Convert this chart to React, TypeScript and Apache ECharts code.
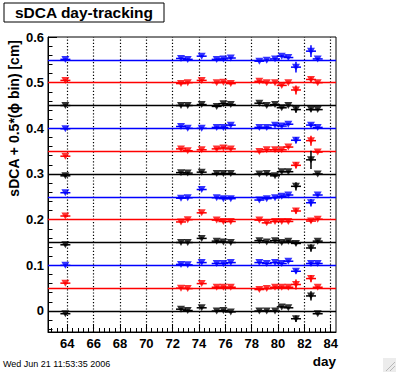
import React, { useEffect, useRef } from "react";
import * as echarts from "echarts";

const FONT = "'Liberation Sans', Arial, Helvetica, sans-serif";

// measurement days
const days = [63.85, 72.63, 73.14, 74.2, 75.34, 75.85, 76.41, 78.58, 79.14, 79.77, 80.28, 80.78, 81.36, 82.5, 83.01];
const dayHalfWidth = 0.38;

// sDCA + 0.5*(phi bin) per phi bin
const bin0 = [-0.006, 0.004, 0.001, 0.007, 0, 0.001, -0.002, 0, 0, 0, 0.009, 0.007, -0.017, 0.033, -0.006];
const bin1 = [0.061, 0.05, 0.049, 0.06, 0.052, 0.052, 0.052, 0.047, 0.049, 0.052, 0.052, 0.052, 0.058, 0.071, 0.052];
const bin2 = [0.1, 0.102, 0.101, 0.106, 0.104, 0.104, 0.106, 0.106, 0.104, 0.106, 0.104, 0.109, 0.087, 0.104, 0.104];
const bin3 = [0.145, 0.15, 0.15, 0.159, 0.153, 0.151, 0.15, 0.154, 0.151, 0.154, 0.15, 0.153, 0.148, 0.138, 0.153];
const bin4 = [0.208, 0.195, 0.2, 0.215, 0.199, 0.196, 0.196, 0.199, 0.193, 0.196, 0.196, 0.196, 0.219, 0.197, 0.201];
const bin5 = [0.259, 0.247, 0.248, 0.266, 0.248, 0.246, 0.246, 0.243, 0.246, 0.248, 0.251, 0.254, null, 0.237, 0.254];
const bin6 = [0.296, 0.303, 0.302, 0.304, 0.301, 0.301, 0.301, 0.3, 0.301, 0.296, 0.305, 0.305, 0.273, 0.331, 0.3];
const bin7 = [0.339, 0.355, 0.351, 0.353, 0.355, 0.357, 0.355, 0.349, 0.353, 0.353, 0.353, 0.359, 0.319, 0.373, 0.348];
const bin8 = [0.399, 0.404, 0.4, 0.4, 0.402, 0.402, 0.407, 0.402, 0.402, 0.407, 0.405, 0.409, 0.374, 0.407, 0.402];
const bin9 = [0.45, 0.45, 0.45, 0.452, 0.448, 0.454, 0.452, 0.455, 0.45, 0.452, 0.445, 0.45, 0.441, 0.441, 0.441];
const bin10 = [0.505, 0.498, 0.5, 0.505, 0.5, 0.501, 0.498, 0.503, 0.5, 0.5, 0.494, 0.5, 0.484, 0.507, 0.5];
const bin11 = [0.551, 0.553, 0.551, 0.558, 0.551, 0.552, 0.554, 0.547, 0.549, 0.552, 0.558, 0.555, 0.534, 0.569, 0.552];

// errors
const err0 = [0.002, 0.002, 0.002, 0.002, 0.002, 0.002, 0.002, 0.002, 0.002, 0.002, 0.002, 0.002, 0.007, 0.01, 0.002];
const err1 = [0.002, 0.002, 0.002, 0.002, 0.002, 0.002, 0.002, 0.002, 0.002, 0.002, 0.002, 0.002, 0.011, 0.008, 0.002];
const err2 = [0.002, 0.002, 0.002, 0.002, 0.002, 0.002, 0.002, 0.002, 0.002, 0.002, 0.002, 0.002, 0.005, 0.004, 0.002];
const err3 = [0.002, 0.002, 0.002, 0.002, 0.002, 0.002, 0.002, 0.002, 0.002, 0.002, 0.002, 0.002, 0.004, 0.008, 0.002];
const err4 = [0.002, 0.002, 0.002, 0.002, 0.002, 0.002, 0.002, 0.002, 0.002, 0.002, 0.002, 0.002, 0.006, 0.004, 0.002];
const err5 = [0.002, 0.002, 0.002, 0.002, 0.002, 0.002, 0.002, 0.002, 0.002, 0.002, 0.002, 0.002, 0, 0.008, 0.002];
const err6 = [0.002, 0.002, 0.002, 0.002, 0.002, 0.002, 0.002, 0.002, 0.002, 0.002, 0.002, 0.002, 0.009, 0.02, 0.002];
const err7 = [0.002, 0.002, 0.002, 0.002, 0.002, 0.002, 0.002, 0.002, 0.002, 0.002, 0.002, 0.002, 0.007, 0.011, 0.002];
const err8 = [0.002, 0.002, 0.002, 0.002, 0.002, 0.002, 0.002, 0.002, 0.002, 0.002, 0.002, 0.002, 0.007, 0.004, 0.002];
const err9 = [0.002, 0.002, 0.002, 0.002, 0.002, 0.002, 0.002, 0.002, 0.002, 0.002, 0.002, 0.002, 0.007, 0.004, 0.002];
const err10 = [0.002, 0.002, 0.002, 0.002, 0.002, 0.002, 0.002, 0.002, 0.002, 0.002, 0.002, 0.002, 0.01, 0.005, 0.002];
const err11 = [0.002, 0.002, 0.002, 0.002, 0.002, 0.002, 0.002, 0.002, 0.002, 0.002, 0.002, 0.002, 0.012, 0.013, 0.002];

const binValues = [bin0, bin1, bin2, bin3, bin4, bin5, bin6, bin7, bin8, bin9, bin10, bin11];
const binErrors = [err0, err1, err2, err3, err4, err5, err6, err7, err8, err9, err10, err11];
const refLevels = [0, 0.05, 0.1, 0.15, 0.2, 0.25, 0.3, 0.35, 0.4, 0.45, 0.5, 0.55];
const palette = ["#000000", "#ff0000", "#0000ff"];

const xMajorTicks = [64, 66, 68, 70, 72, 74, 76, 78, 80, 82, 84];
const yMajorTicks = [0, 0.1, 0.2, 0.3, 0.4, 0.5, 0.6];
const X_MIN = 62.53, X_MAX = 84.4;
const Y_MIN = -0.046, Y_MAX = 0.6;

const xMinorTicks: number[] = [];
for (let i = 0; i <= 60; i++) {
  const v = Math.round((62.8 + i * 0.4) * 100) / 100;
  if (v <= 84.0001) xMinorTicks.push(v);
}
const yMinorTicks: number[] = [];
for (let i = 0; i <= 32; i++) yMinorTicks.push(Math.round((-0.04 + i * 0.02) * 1000) / 1000);

export default function App() {
  const ref = useRef<HTMLDivElement>(null);
  useEffect(() => {
    if (!ref.current) return;
    const chart = echarts.init(ref.current, undefined, { renderer: "svg" });

    const series: any[] = [];
    binValues.forEach((vals, b) => {
      const color = palette[b % 3];
      const errs = binErrors[b];
      const pts: any[] = [];
      const bars: any[] = [];
      vals.forEach((v, i) => {
        if (v === null || v === undefined) return;
        pts.push([days[i], v]);
        bars.push([days[i], v, errs[i], dayHalfWidth]);
      });
      const mlData: any[] = [{ yAxis: refLevels[b], lineStyle: { color, width: 1.4, type: "solid" } }];
      if (b === 0) {
        xMajorTicks.forEach((t) => {
          mlData.push({ xAxis: t, lineStyle: { color: "#000", width: 1.2, type: [1.2, 2] } });
        });
      }
      series.push({
        type: "custom",
        xAxisIndex: 0,
        yAxisIndex: 0,
        data: bars,
        encode: { x: 0, y: 1 },
        silent: true,
        z: 3,
        renderItem: (params: any, api: any) => {
          const x = api.value(0), y = api.value(1), ey = api.value(2), ex = api.value(3);
          const c = api.coord([x, y]);
          const t = api.coord([x, y + ey]);
          const bt = api.coord([x, y - ey]);
          const l = api.coord([x - ex, y]);
          const r = api.coord([x + ex, y]);
          const style = { stroke: color, lineWidth: 1.5 };
          return {
            type: "group",
            children: [
              { type: "line", shape: { x1: c[0], y1: t[1], x2: c[0], y2: bt[1] }, style },
              { type: "line", shape: { x1: l[0], y1: c[1], x2: r[0], y2: c[1] }, style },
            ],
          };
        },
      });
      series.push({
        type: "scatter",
        xAxisIndex: 0,
        yAxisIndex: 0,
        data: pts,
        symbol: "triangle",
        symbolRotate: 180,
        symbolSize: [8, 7],
        itemStyle: { color },
        z: 4,
        markLine: {
          silent: true,
          symbol: ["none", "none"],
          label: { show: false },
          animation: false,
          data: mlData,
          z: 2,
        },
      });
    });

    const labelStyle = { fontFamily: FONT, fontWeight: "bold", fontSize: 13, color: "#000" };

    chart.setOption({
      animation: false,
      backgroundColor: "#ffffff",
      grid: { left: 48, right: 60, top: 37, bottom: 40, show: true, borderColor: "#000", borderWidth: 1, backgroundColor: "transparent" },
      xAxis: [
        {
          type: "value", min: X_MIN, max: X_MAX, position: "bottom",
          axisLine: { onZero: false, lineStyle: { color: "#000", width: 1 } },
          axisTick: { inside: true, length: 8, customValues: xMajorTicks, lineStyle: { color: "#000" } },
          axisLabel: { ...labelStyle, margin: 5, customValues: xMajorTicks, formatter: (v: number) => String(v) },
          splitLine: { show: false },
        },
        {
          type: "value", min: X_MIN, max: X_MAX, position: "bottom", offset: 0,
          axisLine: { show: false, onZero: false },
          axisTick: { inside: true, length: 4, customValues: xMinorTicks, lineStyle: { color: "#000" } },
          axisLabel: { show: false },
          splitLine: { show: false },
        },
      ],
      yAxis: [
        {
          type: "value", min: Y_MIN, max: Y_MAX, position: "left",
          axisLine: { show: true, onZero: false, lineStyle: { color: "#000", width: 1 } },
          axisTick: { show: true, inside: true, length: 9, customValues: yMajorTicks, lineStyle: { color: "#000" } },
          axisLabel: { ...labelStyle, margin: 4, customValues: yMajorTicks, formatter: (v: number) => String(Math.round(v * 10) / 10) },
          splitLine: { show: false },
        },
        {
          type: "value", min: Y_MIN, max: Y_MAX, position: "left", offset: 0,
          axisLine: { show: false, onZero: false },
          axisTick: { show: true, inside: true, length: 4.5, customValues: yMinorTicks, lineStyle: { color: "#000" } },
          axisLabel: { show: false },
          splitLine: { show: false },
        },
      ],
      series,
      graphic: [
        { type: "rect", shape: { x: 4, y: 3, width: 160, height: 19 }, style: { fill: "#fff", stroke: "#000", lineWidth: 1 } },
        { type: "text", x: 84, y: 12.8, style: { text: "sDCA day-tracking", font: `bold 15.5px ${FONT}`, fill: "#000", textAlign: "center", textVerticalAlign: "middle" } },
        { type: "text", x: 14, y: 40, rotation: Math.PI / 2, style: { text: "sDCA + 0.5*(ϕ bin) [cm]", font: `bold 14px ${FONT}`, fill: "#000", textAlign: "right", textVerticalAlign: "middle" } },
        { type: "text", x: 336, y: 361.5, style: { text: "day", font: `bold 13.5px ${FONT}`, fill: "#000", textAlign: "right", textVerticalAlign: "middle" } },
        { type: "text", x: 3, y: 364, style: { text: "Wed Jun 21 11:53:35 2006", font: `9px ${FONT}`, fill: "#000", textAlign: "left", textVerticalAlign: "middle" } },
        { type: "rect", shape: { x: 383, y: 358, width: 13, height: 14 }, style: { fill: "#ececec" } },
        { type: "line", shape: { x1: 386, y1: 371, x2: 395, y2: 362 }, style: { stroke: "#b8b8b8", lineWidth: 1 } },
        { type: "line", shape: { x1: 390, y1: 371, x2: 395, y2: 366 }, style: { stroke: "#b8b8b8", lineWidth: 1 } },
      ],
    });
    return () => chart.dispose();
  }, []);
  return <div ref={ref} style={{ position: "absolute", left: 0, top: 0, width: 396, height: 372, background: "#fff" }} />;
}
